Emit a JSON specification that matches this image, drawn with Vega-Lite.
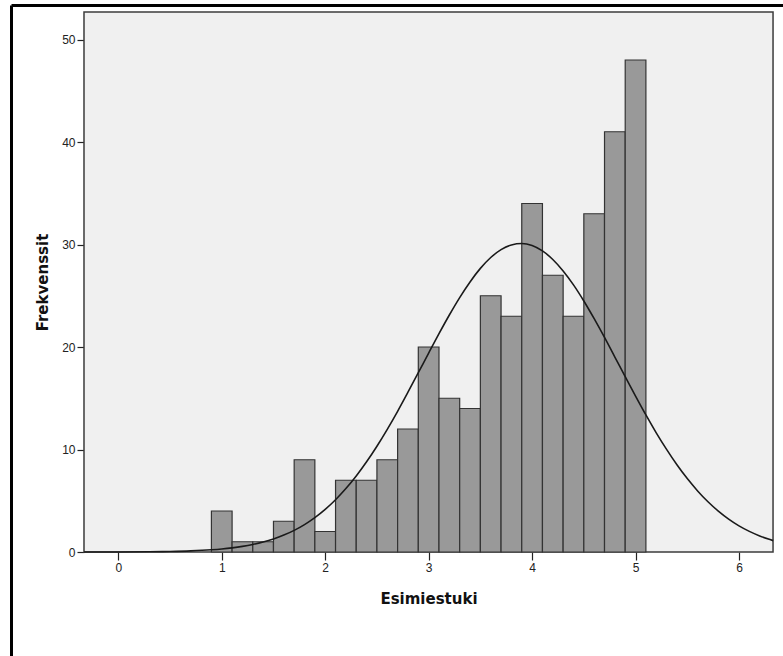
{
  "$schema": "https://vega.github.io/schema/vega-lite/v6.json",
  "width": 772,
  "height": 651,
  "autosize": {"type": "none"},
  "padding": {"left": 11, "top": 5, "right": 0, "bottom": 0},
  "background": "white",
  "config": {
    "view": {"stroke": null, "fill": "white"},
    "font": "DejaVu Sans"
  },
  "resolve": {"axis": {"x": "independent", "y": "independent"}},
  "datasets": {
    "bins": [
      {"start": 0.9, "end": 1.1, "count": 4},
      {"start": 1.1, "end": 1.3, "count": 1},
      {"start": 1.3, "end": 1.5, "count": 1},
      {"start": 1.5, "end": 1.7, "count": 3},
      {"start": 1.7, "end": 1.9, "count": 9},
      {"start": 1.9, "end": 2.1, "count": 2},
      {"start": 2.1, "end": 2.3, "count": 7},
      {"start": 2.3, "end": 2.5, "count": 7},
      {"start": 2.5, "end": 2.7, "count": 9},
      {"start": 2.7, "end": 2.9, "count": 12},
      {"start": 2.9, "end": 3.1, "count": 20},
      {"start": 3.1, "end": 3.3, "count": 15},
      {"start": 3.3, "end": 3.5, "count": 14},
      {"start": 3.5, "end": 3.7, "count": 25},
      {"start": 3.7, "end": 3.9, "count": 23},
      {"start": 3.9, "end": 4.1, "count": 34},
      {"start": 4.1, "end": 4.3, "count": 27},
      {"start": 4.3, "end": 4.5, "count": 23},
      {"start": 4.5, "end": 4.7, "count": 33},
      {"start": 4.7, "end": 4.9, "count": 41},
      {"start": 4.9, "end": 5.1, "count": 48}
    ],
    "curve": [
      {"x": -0.33, "y": 0.002},
      {"x": 0.0, "y": 0.007},
      {"x": 0.3, "y": 0.024},
      {"x": 0.5, "y": 0.052},
      {"x": 0.7, "y": 0.107},
      {"x": 0.9, "y": 0.213},
      {"x": 1.0, "y": 0.294},
      {"x": 1.1, "y": 0.403},
      {"x": 1.2, "y": 0.546},
      {"x": 1.3, "y": 0.732},
      {"x": 1.4, "y": 0.97},
      {"x": 1.5, "y": 1.271},
      {"x": 1.6, "y": 1.648},
      {"x": 1.7, "y": 2.112},
      {"x": 1.8, "y": 2.676},
      {"x": 1.9, "y": 3.355},
      {"x": 2.0, "y": 4.16},
      {"x": 2.1, "y": 5.102},
      {"x": 2.2, "y": 6.186},
      {"x": 2.3, "y": 7.419},
      {"x": 2.4, "y": 8.799},
      {"x": 2.5, "y": 10.32},
      {"x": 2.6, "y": 11.97},
      {"x": 2.7, "y": 13.73},
      {"x": 2.8, "y": 15.59},
      {"x": 2.9, "y": 17.49},
      {"x": 3.0, "y": 19.41},
      {"x": 3.1, "y": 21.3},
      {"x": 3.2, "y": 23.12},
      {"x": 3.3, "y": 24.82},
      {"x": 3.4, "y": 26.35},
      {"x": 3.5, "y": 27.67},
      {"x": 3.6, "y": 28.73},
      {"x": 3.7, "y": 29.5},
      {"x": 3.8, "y": 29.96},
      {"x": 3.9, "y": 30.1},
      {"x": 4.0, "y": 29.9},
      {"x": 4.1, "y": 29.37},
      {"x": 4.2, "y": 28.54},
      {"x": 4.3, "y": 27.42},
      {"x": 4.4, "y": 26.06},
      {"x": 4.5, "y": 24.49},
      {"x": 4.6, "y": 22.76},
      {"x": 4.7, "y": 20.93},
      {"x": 4.8, "y": 19.02},
      {"x": 4.9, "y": 17.11},
      {"x": 5.0, "y": 15.21},
      {"x": 5.1, "y": 13.37},
      {"x": 5.2, "y": 11.63},
      {"x": 5.3, "y": 10.01},
      {"x": 5.4, "y": 8.51},
      {"x": 5.5, "y": 7.16},
      {"x": 5.6, "y": 5.96},
      {"x": 5.7, "y": 4.9},
      {"x": 5.8, "y": 3.99},
      {"x": 5.9, "y": 3.21},
      {"x": 6.0, "y": 2.55},
      {"x": 6.1, "y": 2.01},
      {"x": 6.2, "y": 1.57},
      {"x": 6.3, "y": 1.21},
      {"x": 6.33, "y": 1.11}
    ]
  },
  "layer": [
    {
      "description": "Plot panel behind the histogram; its axes draw only the heavy outer frame lines along the top and left edges",
      "data": {"values": [{}]},
      "mark": {"type": "rect", "fill": "#f0f0f0", "stroke": "#3c3c3c", "strokeWidth": 1.5},
      "encoding": {
        "x": {
          "datum": -0.3316,
          "type": "quantitative",
          "axis": {"orient": "top", "offset": 0, "title": null, "labels": false, "ticks": false, "grid": false, "domain": true, "domainColor": "black", "domainWidth": 3}
        },
        "x2": {"datum": 6.329},
        "y": {
          "datum": 0,
          "type": "quantitative",
          "axis": {"orient": "left", "offset": 0, "title": null, "labels": false, "ticks": false, "grid": false, "domain": true, "domainColor": "black", "domainWidth": 3}
        },
        "y2": {"datum": 52.68}
      }
    },
    {
      "data": {"name": "bins"},
      "mark": {"type": "rect", "fill": "#999999", "stroke": "#333333", "strokeWidth": 1.2},
      "encoding": {
        "x": {
          "field": "start",
          "type": "quantitative",
          "title": "Esimiestuki",
          "scale": {"domain": [-1.0372, 6.4253], "nice": false, "zero": false},
          "axis": {
            "orient": "bottom",
            "offset": -104,
            "values": [0, 1, 2, 3, 4, 5, 6],
            "format": "d",
            "domain": false,
            "grid": false,
            "tickColor": "#222222",
            "tickSize": 8,
            "tickWidth": 1.2,
            "labelFont": "Liberation Sans",
            "labelFontSize": 12,
            "labelColor": "#222222",
            "labelPadding": 2,
            "titleFont": "DejaVu Sans",
            "titleFontSize": 15,
            "titleFontWeight": "bold",
            "titleColor": "#111111",
            "titleX": 417.5,
            "titleY": 46,
            "titleBaseline": "middle",
            "titleAlign": "center"
          }
        },
        "x2": {"field": "end"},
        "y": {
          "field": "count",
          "type": "quantitative",
          "title": "Frekvenssit",
          "scale": {"domain": [-10.146, 53.366], "nice": false, "zero": false},
          "axis": {
            "orient": "left",
            "offset": -73,
            "values": [0, 10, 20, 30, 40, 50],
            "format": "d",
            "domain": false,
            "grid": false,
            "tickColor": "#222222",
            "tickSize": 7,
            "tickWidth": 1.2,
            "labelFont": "Liberation Sans",
            "labelFontSize": 12,
            "labelColor": "#222222",
            "labelPadding": 2,
            "titleFont": "DejaVu Sans",
            "titleFontSize": 15,
            "titleFontWeight": "bold",
            "titleColor": "#111111",
            "titleX": -42,
            "titleY": 277,
            "titleBaseline": "middle",
            "titleAlign": "center",
            "titleAngle": 270
          }
        },
        "y2": {"datum": 0}
      }
    },
    {
      "description": "Fitted normal curve",
      "data": {"name": "curve"},
      "mark": {"type": "line", "color": "#1a1a1a", "strokeWidth": 1.6, "interpolate": "monotone"},
      "encoding": {
        "x": {"field": "x", "type": "quantitative", "axis": null},
        "y": {"field": "y", "type": "quantitative", "axis": null}
      }
    }
  ]
}
